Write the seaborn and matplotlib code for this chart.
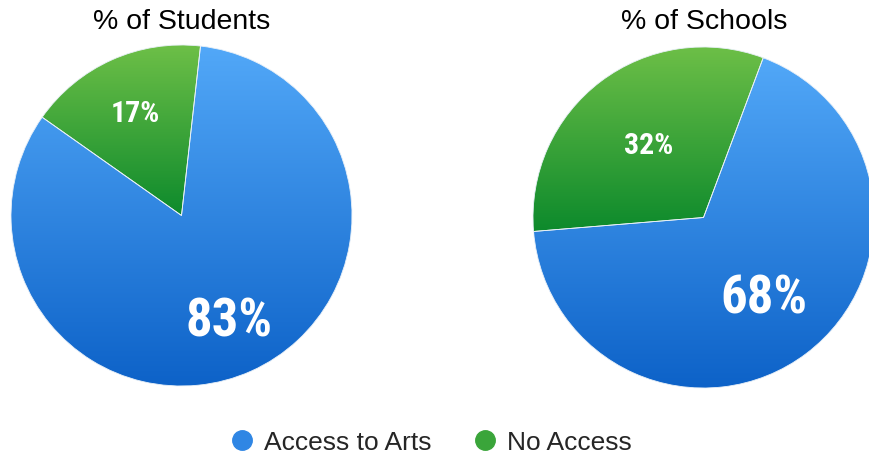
#!/usr/bin/env python3
"""Two pies: share of students / schools with access to arts."""

import matplotlib
matplotlib.use("Agg")
import matplotlib.pyplot as plt
from matplotlib.colors import LinearSegmentedColormap
from matplotlib.lines import Line2D
from matplotlib import font_manager
import numpy as np
import seaborn as sns

categories = ["Access to Arts", "No Access"]
titles = ["% of Students", "% of Schools"]
students = [83, 17]
schools = [68, 32]

# gradient colours (top, bottom) per category
BLUE = ("#52A8F8", "#0D62C8")
GREEN = ("#6DBF47", "#0D8A2C")


def setup_style():
    sns.set_theme(style="white")
    plt.rcParams["font.family"] = ["Liberation Sans", "DejaVu Sans"]


def is_condensed(f):
    s = f.stretch
    if isinstance(s, str):
        return "condensed" in s or "narrow" in f.name.lower()
    return s < 100 or "narrow" in f.name.lower()


def is_bold(f):
    w = f.weight
    if isinstance(w, str):
        return w in ("bold", "semibold", "demibold", "heavy", "extra bold", "black")
    return w >= 600


def label_font():
    """Pick a bold condensed face for the slice labels if one is installed."""
    prefer = ["Liberation Sans Narrow", "Roboto Condensed", "Noto Sans",
              "Open Sans", "Noto Sans Display", "DejaVu Sans"]
    cands = [f for f in font_manager.fontManager.ttflist
             if is_bold(f) and is_condensed(f) and "italic" not in f.style
             and "oblique" not in f.style]
    for name in prefer:
        for f in cands:
            if f.name == name:
                return f.fname
    if cands:
        return cands[0].fname
    return None


def gradient_fill(ax, wedge, colors):
    cmap = LinearSegmentedColormap.from_list("g", list(colors))
    ext = wedge.get_path().get_extents()
    grad = np.linspace(0, 1, 256).reshape(-1, 1)
    im = ax.imshow(grad, cmap=cmap, aspect="auto", origin="upper",
                   extent=[ext.x0, ext.x1, ext.y0, ext.y1], zorder=1,
                   interpolation="bilinear")
    im.set_clip_path(wedge)
    wedge.set_facecolor("none")


def draw_pie(ax, values, start, dists, sizes, fpath):
    wedges, _, autotexts = ax.pie(
        values, startangle=start, counterclock=False, radius=1,
        autopct="%d%%",
        wedgeprops={"edgecolor": "#e8f0f8", "linewidth": 0.6},
    )
    for w, c in zip(wedges, [BLUE, GREEN]):
        gradient_fill(ax, w, c)
        w.set_zorder(2)
    for w, t, size, d in zip(wedges, autotexts, sizes, dists):
        mid = np.deg2rad((w.theta1 + w.theta2) / 2)
        t.set_position((d * np.cos(mid), d * np.sin(mid)))
        if fpath:
            t.set_fontproperties(font_manager.FontProperties(fname=fpath, size=size))
        else:
            t.set_fontweight("bold")
            t.set_fontsize(size * 0.85)
        t.set_color("white")
        t.set_zorder(3)
    ax.set_xlim(-1, 1)
    ax.set_ylim(-1, 1)
    ax.set_aspect("auto")
    ax.axis("off")


def main():
    setup_style()
    fpath = label_font()
    fig = plt.figure(figsize=(8.7, 4.6), dpi=100)
    w, h = 341 / 870, 341 / 460
    ax1 = fig.add_axes([11 / 870, 1 - 387 / 460, w, h])
    ax2 = fig.add_axes([533 / 870, 1 - 389 / 460, w, h])

    draw_pie(ax1, students, 83.6, (0.68, 0.66), (38, 21.5), fpath)
    draw_pie(ax2, schools, 69.5, (0.59, 0.53), (38, 21.5), fpath)

    fig.text(182 / 870, 1 - 29 / 460, titles[0], ha="center", va="baseline",
             fontsize=20.5, color="black")
    fig.text(704 / 870, 1 - 29 / 460, titles[1], ha="center", va="baseline",
             fontsize=20.5, color="black")

    handles = [
        Line2D([], [], marker="o", linestyle="none", markersize=14,
               markerfacecolor="#2F86E4", markeredgecolor="#2F86E4"),
        Line2D([], [], marker="o", linestyle="none", markersize=14,
               markerfacecolor="#3AA53A", markeredgecolor="#3AA53A"),
    ]
    fig.legend(handles, categories, loc="center", bbox_to_anchor=(0.493, 1 - 443 / 460),
               ncol=2, frameon=False, fontsize=19, handletextpad=0.25,
               columnspacing=1.4, handlelength=1.2)

    fig.savefig("out.png", dpi=100)


if __name__ == "__main__":
    main()
